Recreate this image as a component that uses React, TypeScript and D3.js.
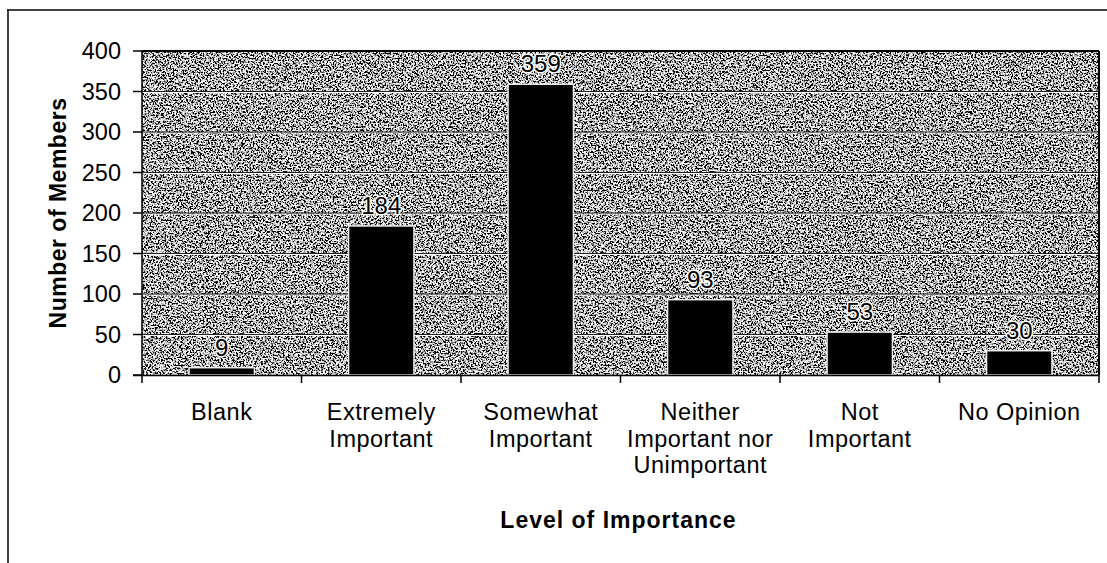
import React from "react";
import * as d3 from "d3";

const categories: string[][] = [
  ["Blank"],
  ["Extremely", "Important"],
  ["Somewhat", "Important"],
  ["Neither", "Important nor", "Unimportant"],
  ["Not", "Important"],
  ["No Opinion"],
];
const values: number[] = [9, 184, 359, 93, 53, 30];
const yTicks: number[] = [0, 50, 100, 150, 200, 250, 300, 350, 400];
const xTitle = "Level of Importance";
const yTitle = "Number of Members";

const W = 1107;
const H = 563;
const left = 142;
const right = 1099;
const top = 51;
const bottom = 375;
const font = "'Liberation Sans', Arial, sans-serif";

export default function App() {
  const x = d3
    .scaleBand<number>()
    .domain(values.map((_, i) => i))
    .range([left, right])
    .paddingInner(0.59)
    .paddingOuter(0.295);
  const xb = d3
    .scaleBand<number>()
    .domain(values.map((_, i) => i))
    .range([left, right]);
  const y = d3.scaleLinear().domain([0, 400]).range([bottom, top]);

  return (
    <svg
      width={W}
      height={H}
      style={{ position: "absolute", left: 0, top: 0, background: "#fff" }}
      fontFamily={font}
    >
      <defs>
        <filter id="noise" x="0" y="0" width="100%" height="100%" filterUnits="objectBoundingBox">
          <feTurbulence type="fractalNoise" baseFrequency="0.6" numOctaves={4} seed={7} result="t" />
          <feColorMatrix
            in="t"
            type="matrix"
            values="1 0 0 0 0  1 0 0 0 0  1 0 0 0 0  0 0 0 0 1"
            result="g"
          />
          <feComponentTransfer in="g">
            <feFuncR type="linear" slope={5} intercept={-2.05} />
            <feFuncG type="linear" slope={5} intercept={-2.05} />
            <feFuncB type="linear" slope={5} intercept={-2.05} />
          </feComponentTransfer>
        </filter>
      </defs>

      {/* outer border */}
      <line x1={7} x2={W} y1={10} y2={10} stroke="#000" strokeWidth={1.5} />
      <line x1={8} x2={8} y1={10} y2={H} stroke="#000" strokeWidth={1.5} />

      {/* plot background */}
      <rect x={left} y={top} width={right - left} height={bottom - top} fill="#888" filter="url(#noise)" />

      {/* gridlines */}
      {yTicks.slice(1, -1).map((t) => (
        <g key={t}>
          <line x1={left} x2={right} y1={y(t) + 1} y2={y(t) + 1} stroke="#fff" strokeWidth={1.2} />
          <line x1={left} x2={right} y1={y(t)} y2={y(t)} stroke="#222" strokeWidth={1} />
        </g>
      ))}

      {/* plot border */}
      <line x1={left} x2={right} y1={top} y2={top} stroke="#000" strokeWidth={2} />
      <line x1={right} x2={right} y1={top} y2={bottom} stroke="#000" strokeWidth={2} />

      {/* bars */}
      {values.map((v, i) => (
        <rect
          key={i}
          x={x(i)}
          y={y(v)}
          width={x.bandwidth()}
          height={bottom - y(v)}
          fill="#000"
          stroke="#eee"
          strokeWidth={1.5}
        />
      ))}

      {/* data labels */}
      {values.map((v, i) => (
        <text
          key={i}
          x={(x(i) as number) + x.bandwidth() / 2}
          y={y(v) - 12}
          textAnchor="middle"
          fontSize={24}
          fill="#000"
          stroke="#fff"
          strokeWidth={3}
          paintOrder="stroke"
          strokeLinejoin="round"
        >
          {v}
        </text>
      ))}

      {/* y axis */}
      <line x1={left} x2={left} y1={top} y2={bottom} stroke="#000" strokeWidth={1.5} />
      {yTicks.map((t) => (
        <g key={t}>
          <line x1={133} x2={left} y1={y(t)} y2={y(t)} stroke="#000" strokeWidth={1.5} />
          <text x={121} y={y(t)} dy="0.35em" textAnchor="end" fontSize={23.5} fill="#000">
            {t}
          </text>
        </g>
      ))}

      {/* x axis */}
      <line x1={133} x2={right} y1={bottom + 0.5} y2={bottom + 0.5} stroke="#000" strokeWidth={1.5} />
      {values.map((_, i) => (
        <line
          key={i}
          x1={xb(i)}
          x2={xb(i)}
          y1={bottom}
          y2={bottom + 8}
          stroke="#000"
          strokeWidth={1.5}
        />
      ))}
      <line x1={right} x2={right} y1={bottom} y2={bottom + 8} stroke="#000" strokeWidth={1.5} />

      {categories.map((lines, i) => (
        <text
          key={i}
          x={(xb(i) as number) + xb.bandwidth() / 2}
          y={420}
          textAnchor="middle"
          fontSize={23.5}
          fill="#000"
          letterSpacing={0.5}
        >
          {lines.map((l, j) => (
            <tspan key={j} x={(xb(i) as number) + xb.bandwidth() / 2} dy={j === 0 ? 0 : 26.5}>
              {l}
            </tspan>
          ))}
        </text>
      ))}

      {/* titles */}
      <text
        x={(left + right) / 2 - 2}
        y={528}
        textAnchor="middle"
        fontSize={23}
        fontWeight="bold"
        letterSpacing={1}
        fill="#000"
      >
        {xTitle}
      </text>
      <text
        transform={`translate(66, ${(top + bottom) / 2}) rotate(-90)`}
        textAnchor="middle"
        fontSize={23}
        fontWeight="bold"
        letterSpacing={0.5}
        fill="#000"
      >
        {yTitle}
      </text>
    </svg>
  );
}
